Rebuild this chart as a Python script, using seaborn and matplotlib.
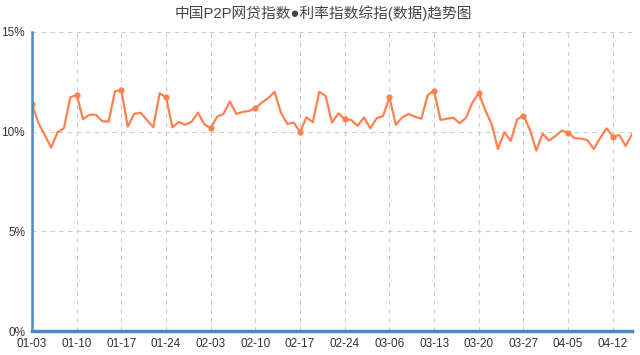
import numpy as np
import pandas as pd
import matplotlib
matplotlib.use("Agg")
import matplotlib.pyplot as plt
import seaborn as sns
from matplotlib.ticker import FuncFormatter

# tick labels, one every 7 points
tick_labels = ['01-03', '01-10', '01-17', '01-24', '02-03', '02-10', '02-17',
               '02-24', '03-06', '03-13', '03-20', '03-27', '04-05', '04-12']

# interest rate index (%)
rate = [11.39, 10.44, 9.83, 9.20, 9.97, 10.17, 11.72,
        11.84, 10.62, 10.85, 10.85, 10.52, 10.50, 12.03,
        12.09, 10.25, 10.89, 10.95, 10.59, 10.22, 11.93,
        11.72, 10.22, 10.49, 10.34, 10.50, 10.95, 10.37,
        10.17, 10.75, 10.89, 11.52, 10.89, 10.99, 11.04,
        11.17, 11.46, 11.68, 12.00, 10.95, 10.39, 10.45,
        9.98, 10.72, 10.47, 12.00, 11.79, 10.45, 10.92,
        10.62, 10.59, 10.29, 10.72, 10.17, 10.67, 10.79,
        11.72, 10.35, 10.72, 10.89, 10.75, 10.65, 11.84,
        12.06, 10.59, 10.65, 10.70, 10.42, 10.70, 11.46,
        11.93, 11.09, 10.39, 9.13, 9.97, 9.53, 10.62,
        10.80, 10.10, 9.05, 9.90, 9.55, 9.78, 10.05,
        9.95, 9.67, 9.65, 9.58, 9.13, 9.67, 10.17,
        9.75, 9.83, 9.28, 9.88]

df = pd.DataFrame({'idx': np.arange(len(rate)), 'rate': rate})

sns.set_style("white")
plt.rcParams['font.family'] = ['Liberation Sans', 'Noto Sans CJK SC', 'DejaVu Sans']

fig = plt.figure(figsize=(6.4, 3.55), dpi=100)
ax = fig.add_axes([0.05, 0.0676, 0.9375, 0.8423])

sns.lineplot(data=df, x='idx', y='rate', ax=ax, color='#ff8150', linewidth=1.6,
             marker='o', markersize=4.5, markeredgewidth=0, markevery=7)

ax.set_xlim(0, len(rate) - 1)
ax.set_ylim(0, 15)
ax.set_xticks(np.arange(0, len(rate), 7))
ax.set_xticklabels(tick_labels)
ax.set_yticks([0, 5, 10, 15])
ax.yaxis.set_major_formatter(FuncFormatter(lambda v, p: f'{int(v)}%'))
ax.set_xlabel('')
ax.set_ylabel('')

ax.grid(True, color='#cccccc', linestyle=(0, (4, 4)), linewidth=0.8)
ax.tick_params(axis='both', length=0, labelsize=8.5, colors='#333333')
ax.tick_params(axis='x', pad=5)
ax.tick_params(axis='y', pad=5)

for s in ['top', 'right']:
    ax.spines[s].set_visible(False)
ax.spines['left'].set_color('#4a89c4')
ax.spines['left'].set_linewidth(1.8)
ax.spines['bottom'].set_color('#4a89c4')
ax.spines['bottom'].set_linewidth(2.5)

fig.text(0.505, 0.963, '中国P2P网贷指数●利率指数综指(数据)趋势图', ha='center', va='center',
         fontsize=10.6, color='#444444',
         family=['Liberation Sans', 'Noto Sans CJK SC', 'DejaVu Sans'])

fig.savefig('out.png', dpi=100)
